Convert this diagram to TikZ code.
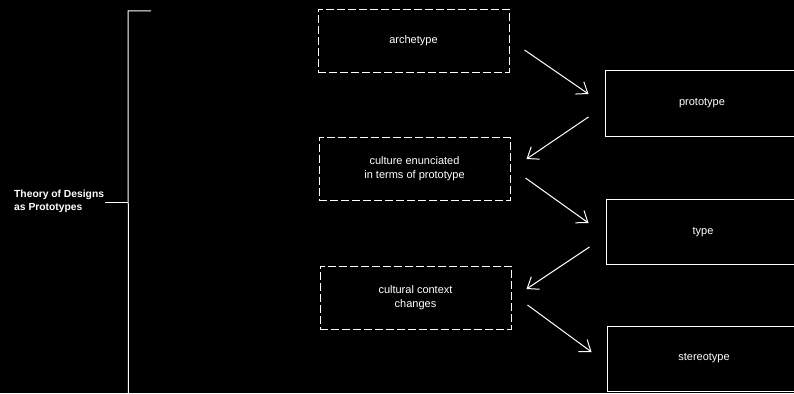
\documentclass[tikz,border=0pt]{standalone}
\usepackage{fontspec}
\setmainfont{Liberation Sans}
\usetikzlibrary{arrows.meta}
\usetikzlibrary{positioning}

\tikzset{
  dashbox/.style={draw=white, line width=1pt, dash pattern=on 8pt off 3pt, minimum width=191pt, minimum height=63pt, align=center, text=white, font=\fontsize{11}{14}\selectfont},
  solidbox/.style={draw=white, line width=1pt, minimum width=194pt, minimum height=65pt, align=center, text=white, font=\fontsize{11}{14}\selectfont},
  flow/.style={white, line width=1pt, -{Straight Barb[length=10pt,width=15pt]}}
}

\begin{document}
\begin{tikzpicture}[x=1pt,y=-1pt]
\useasboundingbox (0,0) rectangle (794,393);
\fill[black] (0,0) rectangle (794,393);
\clip (0,0) rectangle (794,393);
% title and bracket
\node[anchor=west, inner sep=0pt, align=left, text=white, font=\bfseries\fontsize{10.3}{13}\selectfont] (t) at (14,201) {Theory of Designs\\as Prototypes};
\draw[white, line width=1pt] (t.east) ++(1,1) -- (128,202);
\draw[white, line width=1pt] (151,11) -- (128,11) -- (128.5,400);
% dashed column
\node[dashbox] (10) at (413.5,41) {archetype};
\node[dashbox] (11) at (414.5,169) {culture enunciated\\in terms of prototype};
\node[dashbox] (12) at (415.5,297.5) {cultural context\\changes};
% solid column
\node[solidbox] (20) at (702,103.5) {prototype};
\node[solidbox] (21) at (703,232) {type};
\node[solidbox] (22) at (704,358.5) {stereotype};
% arrows
\draw[flow] ([xshift=15pt,yshift=-9pt]10.east) to ([xshift=-16pt,yshift=9.5pt]20.west);
\draw[flow] ([xshift=-16pt,yshift=-13.5pt]20.west) to ([xshift=16pt,yshift=10pt]11.east);
\draw[flow] ([xshift=15pt,yshift=-9pt]11.east) to ([xshift=-17pt,yshift=9pt]21.west);
\draw[flow] ([xshift=-16pt,yshift=-15pt]21.west) to ([xshift=15pt,yshift=8.5pt]12.east);
\draw[flow] ([xshift=16pt,yshift=-7.5pt]12.east) to ([xshift=-15pt,yshift=6.5pt]22.west);
\end{tikzpicture}
\end{document}
